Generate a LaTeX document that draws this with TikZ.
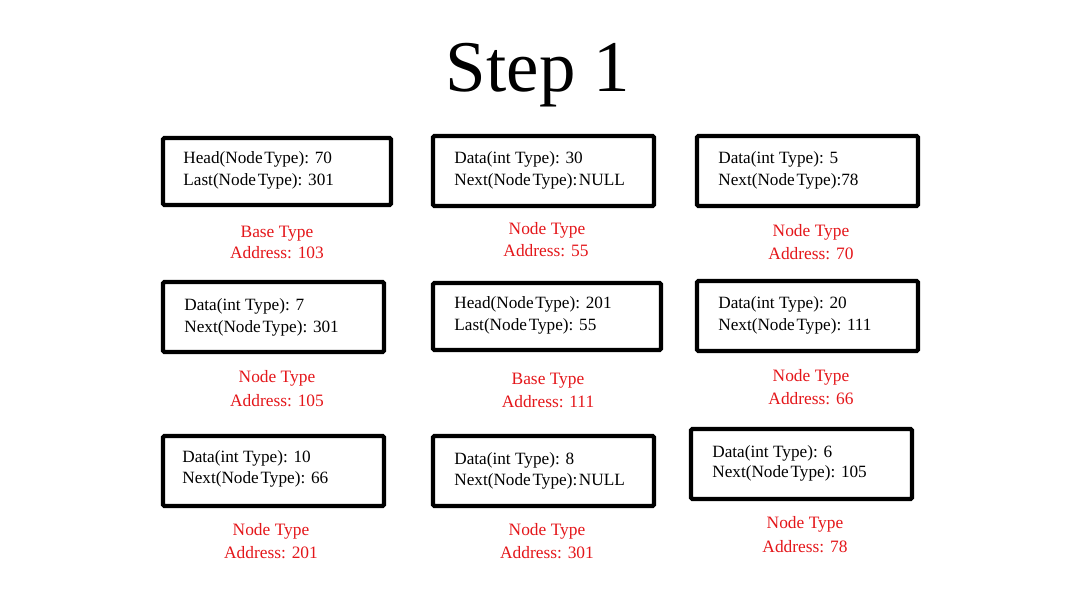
\documentclass[tikz,border=0pt]{standalone}
\usepackage{fontspec}
\setmainfont{Liberation Serif}
\definecolor{lblred}{RGB}{228,22,26}
\tikzset{
  box/.style={draw=black, line width=2.4pt, rounded corners=0.8pt, inner sep=0pt, minimum width=4.42cm, minimum height=1.4cm},
  wide/.style={minimum width=4.56cm, minimum height=1.34cm},
  boxtext/.style={anchor=base west, inner sep=0pt, font=\fontsize{9.8pt}{11pt}\selectfont},
  lbl/.style={anchor=base, inner sep=0pt, text=lblred, font=\fontsize{9.9pt}{11pt}\selectfont},
  title/.style={anchor=base, inner sep=0pt, font=\fontsize{41.5pt}{48pt}\selectfont}
}
\begin{document}
\begin{tikzpicture}[x=0.02cm, y=-0.02cm]
\useasboundingbox (0,0) rectangle (1080,608);
\node[title] (ttl) at (538,92) {Step 1};
% row 1
\node[box, wide] (A) at (277,171.5) {};
\node[boxtext] (A1) at (183,164) {Head(Node\kern0.1em Type): 70};
\node[boxtext] (A2) at (183,186) {Last(Node\kern0.1em Type): 301};
\node[lbl] (Al1) at (277,237) {Base Type};
\node[lbl] (Al2) at (277,258) {Address: 103};

\node[box] (B) at (543.5,171) {};
\node[boxtext] (B1) at (454,164) {Data(int Type): 30};
\node[boxtext] (B2) at (454,186) {Next(Node\kern0.1em Type):\kern0.1em NULL};
\node[lbl] (Bl1) at (547,235) {Node Type};
\node[lbl] (Bl2) at (546,256) {Address: 55};

\node[box] (C) at (807.5,171) {};
\node[boxtext] (C1) at (718,164) {Data(int Type): 5};
\node[boxtext] (C2) at (718,186) {Next(Node\kern0.1em Type):78};
\node[lbl] (Cl1) at (811,236) {Node Type};
\node[lbl] (Cl2) at (811,259) {Address: 70};
% row 2
\node[box] (D) at (273.5,317) {};
\node[boxtext] (D1) at (184,311) {Data(int Type): 7};
\node[boxtext] (D2) at (184,333) {Next(Node\kern0.1em Type): 301};
\node[lbl] (Dl1) at (277,382) {Node Type};
\node[lbl] (Dl2) at (277,406) {Address: 105};

\node[box, wide] (E) at (547,316.5) {};
\node[boxtext] (E1) at (454,309) {Head(Node\kern0.1em Type): 201};
\node[boxtext] (E2) at (454,331) {Last(Node\kern0.1em Type): 55};
\node[lbl] (El1) at (548,384) {Base Type};
\node[lbl] (El2) at (548,407) {Address: 111};

\node[box] (F) at (807.5,316) {};
\node[boxtext] (F1) at (718,309) {Data(int Type): 20};
\node[boxtext] (F2) at (718,331) {Next(Node\kern0.1em Type): 111};
\node[lbl] (Fl1) at (811,381) {Node Type};
\node[lbl] (Fl2) at (811,404) {Address: 66};
% row 3
\node[box] (G) at (273.5,471) {};
\node[boxtext] (G1) at (182,462) {Data(int Type): 10};
\node[boxtext] (G2) at (182,483) {Next(Node\kern0.1em Type): 66};
\node[lbl] (Gl1) at (271,535) {Node Type};
\node[lbl] (Gl2) at (271,558) {Address: 201};

\node[box] (H) at (543.5,471) {};
\node[boxtext] (H1) at (454,464) {Data(int Type): 8};
\node[boxtext] (H2) at (454,485) {Next(Node\kern0.1em Type):\kern0.1em NULL};
\node[lbl] (Hl1) at (547,535) {Node Type};
\node[lbl] (Hl2) at (547,558) {Address: 301};

\node[box] (I) at (801.5,464) {};
\node[boxtext] (I1) at (712,458) {Data(int Type): 6};
\node[boxtext] (I2) at (712,478) {Next(Node\kern0.1em Type): 105};
\node[lbl] (Il1) at (805,528) {Node Type};
\node[lbl] (Il2) at (805,552) {Address: 78};
\end{tikzpicture}
\end{document}
